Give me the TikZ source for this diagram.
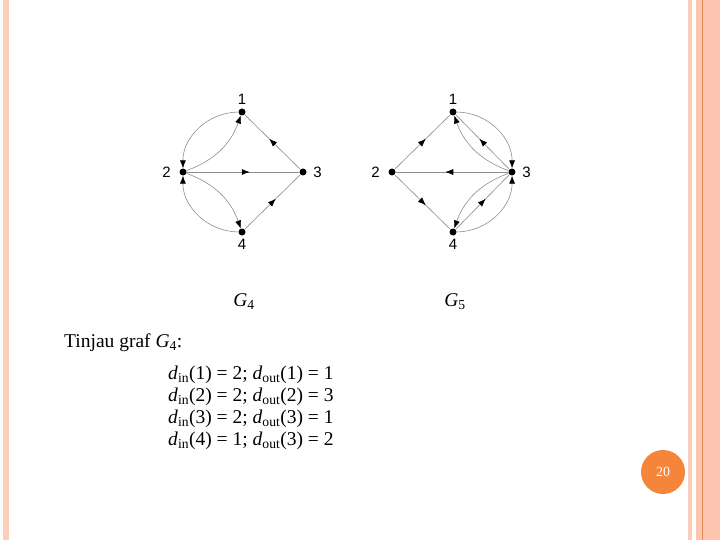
\documentclass[tikz,border=0pt]{standalone}
\usepackage{fontspec}
\setmainfont{Liberation Serif}
\newfontfamily\arialfont{Liberation Sans}
\usetikzlibrary{arrows.meta,decorations.markings,positioning}
\definecolor{edgegray}{HTML}{8C8C8C}
\definecolor{stripepale}{HTML}{FBCDBB}
\definecolor{stripepeach}{HTML}{FDC4AF}
\definecolor{stripeline}{HTML}{E58A55}
\definecolor{badgeorange}{HTML}{F5853A}

\tikzset{
    vtx/.style={circle, fill=black, inner sep=0pt, minimum size=7pt},
    vlbl/.style={inner sep=0pt, font=\arialfont\fontsize{15pt}{17pt}\selectfont},
    arc/.style={draw=edgegray, line width=0.6pt, -{Latex[length=8pt,width=6pt,color=black]}},
    midarc/.style={draw=edgegray, line width=0.6pt, postaction={decorate},
        decoration={markings, mark=at position 0.56 with {\arrow{Latex[length=8pt,width=6pt,color=black]}}}},
    txt/.style={inner sep=0pt, anchor=base west, font=\fontsize{19.5pt}{22pt}\selectfont}
}

\begin{document}
\begin{tikzpicture}[x=1pt, y=-1pt]
        \useasboundingbox (0,0) rectangle (720,540);

        % ----------------------------------------------------
        % SLIDE BORDERS
        % ----------------------------------------------------
        \fill[stripepale] (3,0) rectangle (9,540);
        \fill[stripepale] (688,0) rectangle (692,540);
        \fill[stripepeach] (696,0) rectangle (720,540);
        \draw[stripeline, line width=1.2pt] (702.5,0) -- (702.5,540);

        % ----------------------------------------------------
        % GRAPH G4
        % ----------------------------------------------------
        \node[vtx] (a1) at (242,112) {};
        \node[vtx] (a2) at (183,172) {};
        \node[vtx] (a3) at (303,172) {};
        \node[vtx] (a4) at (242,232) {};
        \node[vlbl, above=3.5pt of a1] (la1) {1};
        \node[vlbl, left=8.5pt of a2] (la2) {2};
        \node[vlbl, right=6.5pt of a3] (la3) {3};
        \node[vlbl, below=3.5pt of a4] (la4) {4};

        \draw[midarc] (a3) -- (a1);
        \draw[midarc] (a2) -- (a3);
        \draw[midarc] (a4) -- (a3);
        \draw[arc] (a1) to[bend right=45] (a2);
        \draw[arc] (a2) to[bend right=25] (a1);
        \draw[arc] (a4) to[bend left=45] (a2);
        \draw[arc] (a2) to[bend left=25] (a4);

        \node[txt, anchor=base] (g4) at (244,306) {\textit{G}\textsubscript{4}};

        % ----------------------------------------------------
        % GRAPH G5
        % ----------------------------------------------------
        \node[vtx] (b1) at (453,112) {};
        \node[vtx] (b2) at (392,172) {};
        \node[vtx] (b3) at (512,172) {};
        \node[vtx] (b4) at (453,232) {};
        \node[vlbl, above=3.5pt of b1] (lb1) {1};
        \node[vlbl, left=8.5pt of b2] (lb2) {2};
        \node[vlbl, right=6.5pt of b3] (lb3) {3};
        \node[vlbl, below=3.5pt of b4] (lb4) {4};

        \draw[midarc] (b2) -- (b1);
        \draw[midarc] (b3) -- (b2);
        \draw[midarc] (b2) -- (b4);
        \draw[midarc] (b3) -- (b1);
        \draw[midarc] (b4) -- (b3);
        \draw[arc] (b1) to[bend left=45] (b3);
        \draw[arc] (b3) to[bend left=25] (b1);
        \draw[arc] (b4) to[bend right=45] (b3);
        \draw[arc] (b3) to[bend right=25] (b4);

        \node[txt, anchor=base] (g5) at (455,306) {\textit{G}\textsubscript{5}};

        % ----------------------------------------------------
        % DEGREES OF G4
        % ----------------------------------------------------
        \node[txt] (intro) at (64,347) {Tinjau graf \textit{G}\textsubscript{4}:};
        \node[txt] (row1) at (168,379) {\textit{d}\textsubscript{in}(1) = 2; \textit{d}\textsubscript{out}(1) = 1};
        \node[txt] (row2) at (168,401) {\textit{d}\textsubscript{in}(2) = 2; \textit{d}\textsubscript{out}(2) = 3};
        \node[txt] (row3) at (168,423) {\textit{d}\textsubscript{in}(3) = 2; \textit{d}\textsubscript{out}(3) = 1};
        \node[txt] (row4) at (168,445) {\textit{d}\textsubscript{in}(4) = 1; \textit{d}\textsubscript{out}(3) = 2};

        % ----------------------------------------------------
        % PAGE NUMBER
        % ----------------------------------------------------
        \node[circle, fill=badgeorange, minimum size=44pt, inner sep=0pt, text=white,
              font=\fontsize{14pt}{16pt}\selectfont] (pagenum) at (663,472) {20};
    \end{tikzpicture}
\end{document}
